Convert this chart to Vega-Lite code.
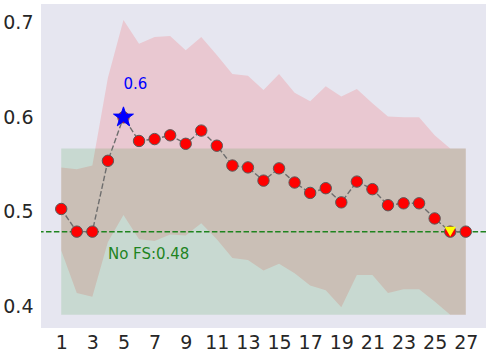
{
  "$schema": "https://vega.github.io/schema/vega-lite/v6.json",
  "width": 445,
  "height": 324,
  "autosize": {"type": "none"},
  "padding": {"left": 41, "top": 4, "right": 4, "bottom": 25},
  "background": "white",
  "config": {
    "view": {"fill": "#E6E6F0", "stroke": null},
    "font": "DejaVu Sans",
    "axis": {
      "domain": false, "ticks": false, "grid": false, "title": null,
      "labelFont": "DejaVu Sans", "labelFontSize": 19, "labelColor": "#262626"
    }
  },
  "datasets": {
    "fs": [
      {"x": 1, "y": 0.503, "lo": 0.459, "hi": 0.547},
      {"x": 2, "y": 0.479, "lo": 0.414, "hi": 0.545},
      {"x": 3, "y": 0.479, "lo": 0.410, "hi": 0.549},
      {"x": 4, "y": 0.554, "lo": 0.468, "hi": 0.642},
      {"x": 5, "y": 0.600, "lo": 0.4965, "hi": 0.703},
      {"x": 6, "y": 0.575, "lo": 0.471, "hi": 0.678},
      {"x": 7, "y": 0.577, "lo": 0.469, "hi": 0.685},
      {"x": 8, "y": 0.581, "lo": 0.476, "hi": 0.686},
      {"x": 9, "y": 0.572, "lo": 0.475, "hi": 0.671},
      {"x": 10, "y": 0.586, "lo": 0.488, "hi": 0.685},
      {"x": 11, "y": 0.570, "lo": 0.471, "hi": 0.666},
      {"x": 12, "y": 0.549, "lo": 0.451, "hi": 0.646},
      {"x": 13, "y": 0.547, "lo": 0.449, "hi": 0.644},
      {"x": 14, "y": 0.533, "lo": 0.438, "hi": 0.629},
      {"x": 15, "y": 0.546, "lo": 0.445, "hi": 0.646},
      {"x": 16, "y": 0.531, "lo": 0.435, "hi": 0.626},
      {"x": 17, "y": 0.520, "lo": 0.422, "hi": 0.617},
      {"x": 18, "y": 0.525, "lo": 0.417, "hi": 0.633},
      {"x": 19, "y": 0.510, "lo": 0.399, "hi": 0.622},
      {"x": 20, "y": 0.532, "lo": 0.433, "hi": 0.630},
      {"x": 21, "y": 0.524, "lo": 0.433, "hi": 0.615},
      {"x": 22, "y": 0.507, "lo": 0.414, "hi": 0.601},
      {"x": 23, "y": 0.509, "lo": 0.418, "hi": 0.600},
      {"x": 24, "y": 0.509, "lo": 0.418, "hi": 0.600},
      {"x": 25, "y": 0.493, "lo": 0.405, "hi": 0.581},
      {"x": 26, "y": 0.479, "lo": 0.391, "hi": 0.567},
      {"x": 27, "y": 0.479, "lo": 0.391, "hi": 0.567}
    ],
    "nofs": [
      {"x": 1, "mean": 0.479, "lo": 0.391, "hi": 0.567},
      {"x": 27, "mean": 0.479, "lo": 0.391, "hi": 0.567}
    ],
    "best": [{"x": 5, "y": 0.6, "label": "0.6", "ly": 0.635}],
    "worst": [{"x": 26, "y": 0.479}],
    "nofslabel": [{"x": 4, "y": 0.455, "label": "No FS:0.48"}]
  },
  "encoding": {
    "x": {
      "type": "quantitative",
      "scale": {"domain": [-0.3, 28.3], "nice": false, "zero": false},
      "axis": {"values": [1, 3, 5, 7, 9, 11, 13, 15, 17, 19, 21, 23, 25, 27], "labelPadding": 5}
    }
  },
  "layer": [
    {
      "data": {"name": "fs"},
      "mark": {"type": "area", "color": "#FF0000", "opacity": 0.13},
      "encoding": {
        "x": {"field": "x", "type": "quantitative"},
        "y": {"field": "hi", "type": "quantitative",
              "scale": {"domain": [0.377, 0.72], "nice": false, "zero": false},
              "axis": {"values": [0.4, 0.5, 0.6, 0.7], "format": ".1f", "labelPadding": 8}},
        "y2": {"field": "lo"}
      }
    },
    {
      "data": {"name": "nofs"},
      "mark": {"type": "area", "color": "#008000", "opacity": 0.13},
      "encoding": {
        "x": {"field": "x", "type": "quantitative"},
        "y": {"field": "hi", "type": "quantitative"},
        "y2": {"field": "lo"}
      }
    },
    {
      "data": {"name": "nofs"},
      "transform": [{"filter": "datum.x == 1"}],
      "mark": {"type": "rule", "color": "#1f841f", "strokeWidth": 1.5, "strokeDash": [5.5, 2.4]},
      "encoding": {
        "x": null,
        "y": {"field": "mean", "type": "quantitative"}
      }
    },
    {
      "data": {"name": "fs"},
      "mark": {"type": "line", "color": "#6e6e6e", "strokeWidth": 1.4, "strokeDash": [5.5, 2.4]},
      "encoding": {
        "x": {"field": "x", "type": "quantitative"},
        "y": {"field": "y", "type": "quantitative"}
      }
    },
    {
      "data": {"name": "fs"},
      "mark": {"type": "point", "shape": "circle", "filled": true, "fill": "#FF0000", "fillOpacity": 1, "opacity": 1, "stroke": "#5a5a5a", "strokeWidth": 1, "size": 130},
      "encoding": {
        "x": {"field": "x", "type": "quantitative"},
        "y": {"field": "y", "type": "quantitative"}
      }
    },
    {
      "data": {"name": "best"},
      "mark": {"type": "point", "shape": "M0,-1L0.225,-0.309L0.951,-0.309L0.363,0.118L0.588,0.809L0,0.382L-0.588,0.809L-0.363,0.118L-0.951,-0.309L-0.225,-0.309Z", "filled": true, "fill": "#0000FF", "stroke": "#0000FF", "strokeWidth": 1, "opacity": 1, "size": 440},
      "encoding": {
        "x": {"field": "x", "type": "quantitative"},
        "y": {"field": "y", "type": "quantitative"}
      }
    },
    {
      "data": {"name": "best"},
      "mark": {"type": "text", "color": "#0000FF", "fontSize": 15, "align": "left", "baseline": "middle", "dx": 0},
      "encoding": {
        "x": {"field": "x", "type": "quantitative"},
        "y": {"field": "ly", "type": "quantitative"},
        "text": {"field": "label"}
      }
    },
    {
      "data": {"name": "worst"},
      "mark": {"type": "point", "shape": "triangle-down", "filled": true, "fill": "#FFFF00", "opacity": 1, "strokeWidth": 0, "size": 130},
      "encoding": {
        "x": {"field": "x", "type": "quantitative"},
        "y": {"field": "y", "type": "quantitative"}
      }
    },
    {
      "data": {"name": "nofslabel"},
      "mark": {"type": "text", "color": "#1f841f", "fontSize": 15, "align": "left", "baseline": "middle"},
      "encoding": {
        "x": {"field": "x", "type": "quantitative"},
        "y": {"field": "y", "type": "quantitative"},
        "text": {"field": "label"}
      }
    }
  ]
}
